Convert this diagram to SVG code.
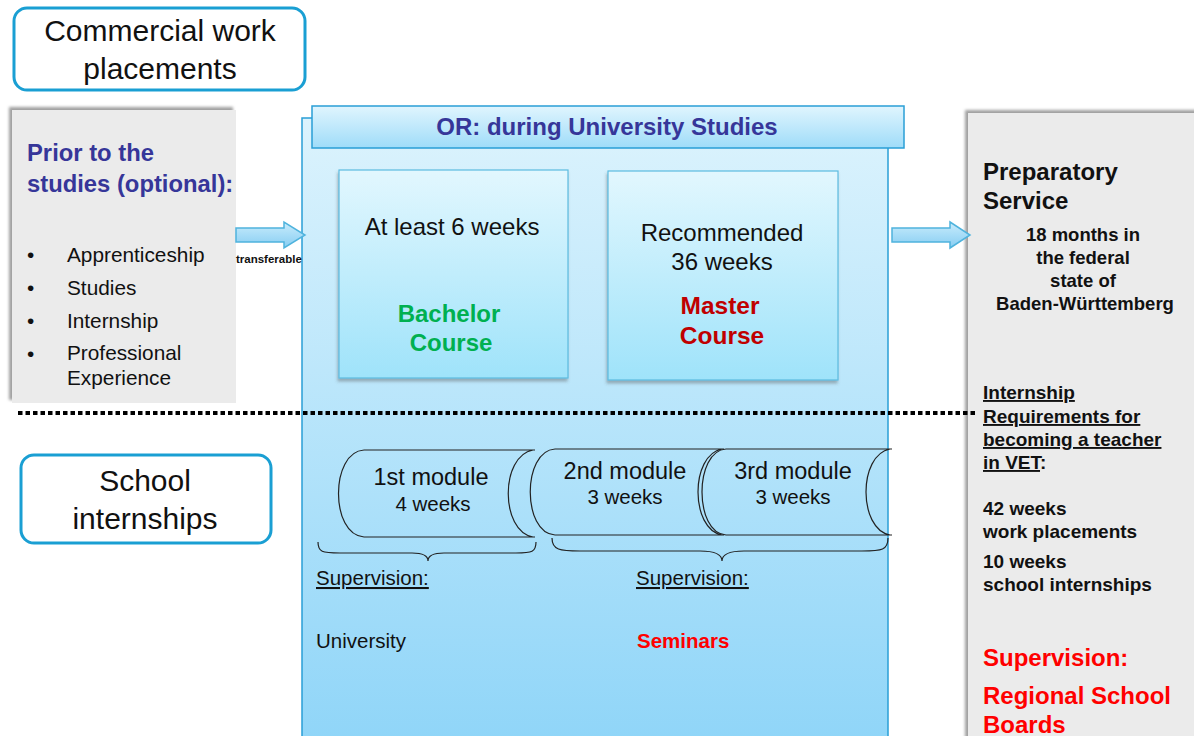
<svg xmlns="http://www.w3.org/2000/svg" width="1194" height="736" viewBox="0 0 1194 736">
<defs>
<linearGradient id="gMain" x1="0" y1="0" x2="0" y2="1"><stop offset="0" stop-color="#dcf3fd"/><stop offset="1" stop-color="#8fd5f8"/></linearGradient>
<linearGradient id="gHead" x1="0" y1="0" x2="0" y2="1"><stop offset="0" stop-color="#e0f5fe"/><stop offset="1" stop-color="#9fdcf9"/></linearGradient>
<linearGradient id="gBox" x1="0" y1="0" x2="0" y2="1"><stop offset="0" stop-color="#e2f7fe"/><stop offset="1" stop-color="#9fe3fa"/></linearGradient>
<linearGradient id="gArrow" x1="0" y1="0" x2="0" y2="1"><stop offset="0" stop-color="#c9ecfc"/><stop offset="1" stop-color="#86cdf2"/></linearGradient>
<filter id="shGrey" x="-5%" y="-5%" width="110%" height="110%"><feDropShadow dx="-3" dy="-3" stdDeviation="1.5" flood-color="#777" flood-opacity="0.7"/></filter>
<filter id="shBox" x="-5%" y="-5%" width="110%" height="110%"><feDropShadow dx="-1" dy="3" stdDeviation="1.5" flood-color="#555" flood-opacity="0.4"/></filter>
<style>
.t{font-family:"Liberation Sans",Arial,sans-serif;fill:#111}
.b{font-weight:bold}
.round{fill:#fff;stroke:#1a9fd3;stroke-width:3}
.grey{fill:#ebebeb}
.arrow{fill:url(#gArrow);stroke:#4fb3dd;stroke-width:1.5}
.mod{fill:none;stroke:#222;stroke-width:1.2}
.navy{fill:#363699}
.green{fill:#00b050}
.dred{fill:#c00000}
.red{fill:#ff0000}
</style>
</defs>

<g id="commercial">
<rect class="round" x="14" y="8" width="291" height="82" rx="13"/>
<text class="t" font-size="30" text-anchor="middle" x="160" y="41">Commercial work</text>
<text class="t" font-size="30" text-anchor="middle" x="160" y="79">placements</text>
</g>

<g id="prior">
<rect class="grey" x="12" y="110" width="224" height="293" filter="url(#shGrey)"/>
<text class="t b navy" font-size="23.8" x="27" y="161">Prior to the</text>
<text class="t b navy" font-size="23.8" x="27" y="192">studies (optional):</text>
<g font-size="20.8">
<text class="t" x="27" y="262">•</text><text class="t" x="67" y="262">Apprenticeship</text>
<text class="t" x="27" y="295">•</text><text class="t" x="67" y="295">Studies</text>
<text class="t" x="27" y="328">•</text><text class="t" x="67" y="328">Internship</text>
<text class="t" x="27" y="361">•</text><text class="t" x="67" y="360">Professional</text>
<text class="t" x="67" y="385">Experience</text>
</g>
</g>

<g id="university">
<rect x="302" y="118" width="586" height="630" fill="url(#gMain)" stroke="#2a9fd6" stroke-width="1.5"/>
<rect x="312" y="106" width="592" height="42" fill="url(#gHead)" stroke="#2a9fd6" stroke-width="1.5"/>
<text class="t b navy" font-size="24" text-anchor="middle" x="607" y="135">OR: during University Studies</text>
</g>

<g id="bachelor">
<rect x="339" y="170" width="229" height="208" fill="url(#gBox)" stroke="#5cbbe0" stroke-width="1.2" filter="url(#shBox)"/>
<text class="t" font-size="24" text-anchor="middle" x="452" y="235">At least 6 weeks</text>
<text class="t b green" font-size="24" text-anchor="middle" x="449" y="322">Bachelor</text>
<text class="t b green" font-size="24" text-anchor="middle" x="451" y="351">Course</text>
</g>

<g id="master">
<rect x="608" y="171" width="230" height="209" fill="url(#gBox)" stroke="#5cbbe0" stroke-width="1.2" filter="url(#shBox)"/>
<text class="t" font-size="24" text-anchor="middle" x="722" y="241">Recommended</text>
<text class="t" font-size="24" text-anchor="middle" x="722" y="270">36 weeks</text>
<text class="t b dred" font-size="24.5" text-anchor="middle" x="720" y="314">Master</text>
<text class="t b dred" font-size="24.5" text-anchor="middle" x="722" y="344">Course</text>
</g>

<g id="preparatory">
<rect class="grey" x="968" y="113" width="240" height="640" filter="url(#shGrey)"/>
<text class="t b" font-size="24" x="983" y="180">Preparatory</text>
<text class="t b" font-size="24" x="983" y="209">Service</text>
<g font-size="18.5" text-anchor="middle">
<text class="t b" x="1083" y="241">18 months in</text>
<text class="t b" x="1083" y="264">the federal</text>
<text class="t b" x="1083" y="287">state of</text>
<text class="t b" x="1085" y="310">Baden-Württemberg</text>
</g>
<g font-size="19">
<text class="t b" x="983" y="399" text-decoration="underline">Internship </text>
<text class="t b" x="983" y="423" text-decoration="underline">Requirements for</text>
<text class="t b" x="983" y="446" text-decoration="underline">becoming a teacher</text>
<text class="t b" x="983" y="469"><tspan text-decoration="underline">in VET</tspan>:</text>
<text class="t b" x="983" y="515">42 weeks</text>
<text class="t b" x="983" y="538">work placements</text>
<text class="t b" x="983" y="568">10 weeks</text>
<text class="t b" x="983" y="591">school internships</text>
</g>
<text class="t b red" font-size="24" x="983" y="666">Supervision:</text>
<text class="t b red" font-size="24" x="983" y="704">Regional School</text>
<text class="t b red" font-size="24" x="983" y="733">Boards</text>
</g>

<g id="school">
<rect class="round" x="21" y="455" width="250" height="88" rx="13"/>
<text class="t" font-size="30" text-anchor="middle" x="145" y="491">School</text>
<text class="t" font-size="30" text-anchor="middle" x="145" y="529">internships</text>
</g>

<g id="module1">
<path class="mod" d="M364,450 L535,450 M364,537 L535,537 M364,450 C330,452 330,535 364,537 M533,450 C500,456 500,531 533,537"/>
<text class="t" font-size="23.5" text-anchor="middle" x="431" y="485">1st module</text>
<text class="t" font-size="20.5" text-anchor="middle" x="433" y="511">4 weeks</text>
</g>
<g id="module2">
<path class="mod" d="M555,449 L724,449 M555,535 L724,535 M555,449 C522,451 522,533 555,535 M722,449 C690,455 690,529 722,535"/>
<text class="t" font-size="23.5" text-anchor="middle" x="625" y="479">2nd module</text>
<text class="t" font-size="20.5" text-anchor="middle" x="625" y="504">3 weeks</text>
</g>
<g id="module3">
<path class="mod" d="M726,449 L892,449 M726,535 L892,535 M726,449 C694,451 694,533 726,535 M890,449 C858,455 858,529 890,535"/>
<text class="t" font-size="23.5" text-anchor="middle" x="793" y="479">3rd module</text>
<text class="t" font-size="20.5" text-anchor="middle" x="793" y="504">3 weeks</text>
</g>

<g id="connectors">
<path class="arrow" d="M236,228 L284,228 L284,222 L305,235 L284,248 L284,242 L236,242 Z"/>
<text font-family="'Liberation Sans',Arial,sans-serif" font-weight="bold" font-size="11.5" fill="#111" x="236" y="263">transferable</text>
<path class="arrow" d="M892,228 L950,228 L950,222 L970,235 L950,248 L950,242 L892,242 Z"/>
<line x1="18" y1="413" x2="976" y2="413" stroke="#000" stroke-width="4" stroke-dasharray="4.5 3"/>
<path class="mod" d="M318,542 C318,552 322,553 340,553 L412,553 C424,553 428,556 428,561 C428,556 432,553 444,553 L516,553 C532,553 536,552 536,542"/>
<path class="mod" d="M552,538 C552,550 560,551 580,551 L700,551 C716,551 722,555 722,561 C722,555 728,551 744,551 L862,551 C882,551 888,550 888,538"/>
</g>

<g id="supervision">
<text class="t" font-size="20.5" x="316" y="585" text-decoration="underline">Supervision:</text>
<text class="t" font-size="20.5" x="316" y="648">University</text>
<text class="t" font-size="20.5" x="636" y="585" text-decoration="underline">Supervision:</text>
<text class="t b red" font-size="20.5" x="637" y="648">Seminars</text>
</g>
</svg>
